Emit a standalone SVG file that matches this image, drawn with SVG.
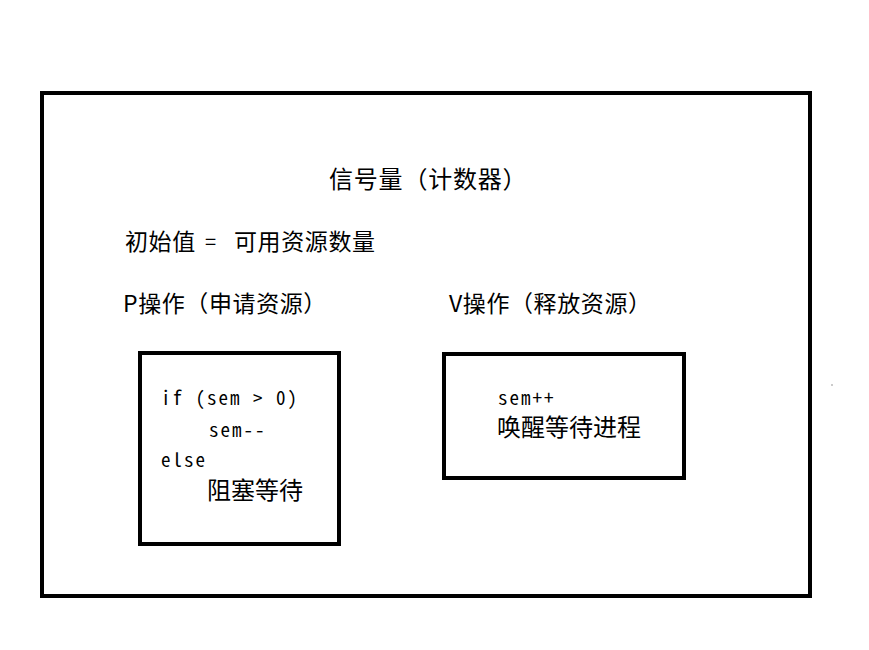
<svg xmlns="http://www.w3.org/2000/svg" width="869" height="650" viewBox="0 0 869 650">
<style>
.box{fill:#fff;stroke:#000;stroke-width:4}
.cjk{font-family:"Noto Sans CJK SC","Noto Sans",sans-serif;fill:#000}
.lbl{font-size:23px;letter-spacing:0.6px}
.mono{font-family:"Noto Sans Mono CJK SC","Liberation Mono","Noto Sans CJK SC",monospace;fill:#000;font-size:19px;letter-spacing:2px}
</style>
<rect width="869" height="650" fill="#fff"/>
<g id="semaphore">
<rect class="box" x="42" y="93" width="768" height="503"/>
<text class="cjk" x="329" y="188" font-size="24" letter-spacing="0.8">信号量（计数器）</text>
<text class="cjk lbl" x="125" y="250">初始值</text>
<text class="cjk" x="205" y="249" font-size="20">=</text>
<text class="cjk lbl" x="234" y="250">可用资源数量</text>
</g>
<g id="p-op">
<text class="cjk lbl" x="123" y="312">P操作（申请资源）</text>
<rect class="box" x="140" y="353" width="199" height="191"/>
<text class="mono" x="161" y="405">if (sem &gt; 0)</text>
<text class="mono" x="209" y="437">sem--</text>
<text class="mono" x="161" y="467">else</text>
<text class="cjk" x="207" y="499" font-size="24">阻塞等待</text>
</g>
<g id="v-op">
<text class="cjk lbl" x="449" y="312">V操作（释放资源）</text>
<rect class="box" x="444" y="354" width="240" height="124"/>
<text class="mono" x="498" y="405">sem++</text>
<text class="cjk" x="497" y="436" font-size="24">唤醒等待进程</text>
</g>
<g id="connectors"></g>
<circle cx="832" cy="385" r="0.8" fill="#888"/>
</svg>
